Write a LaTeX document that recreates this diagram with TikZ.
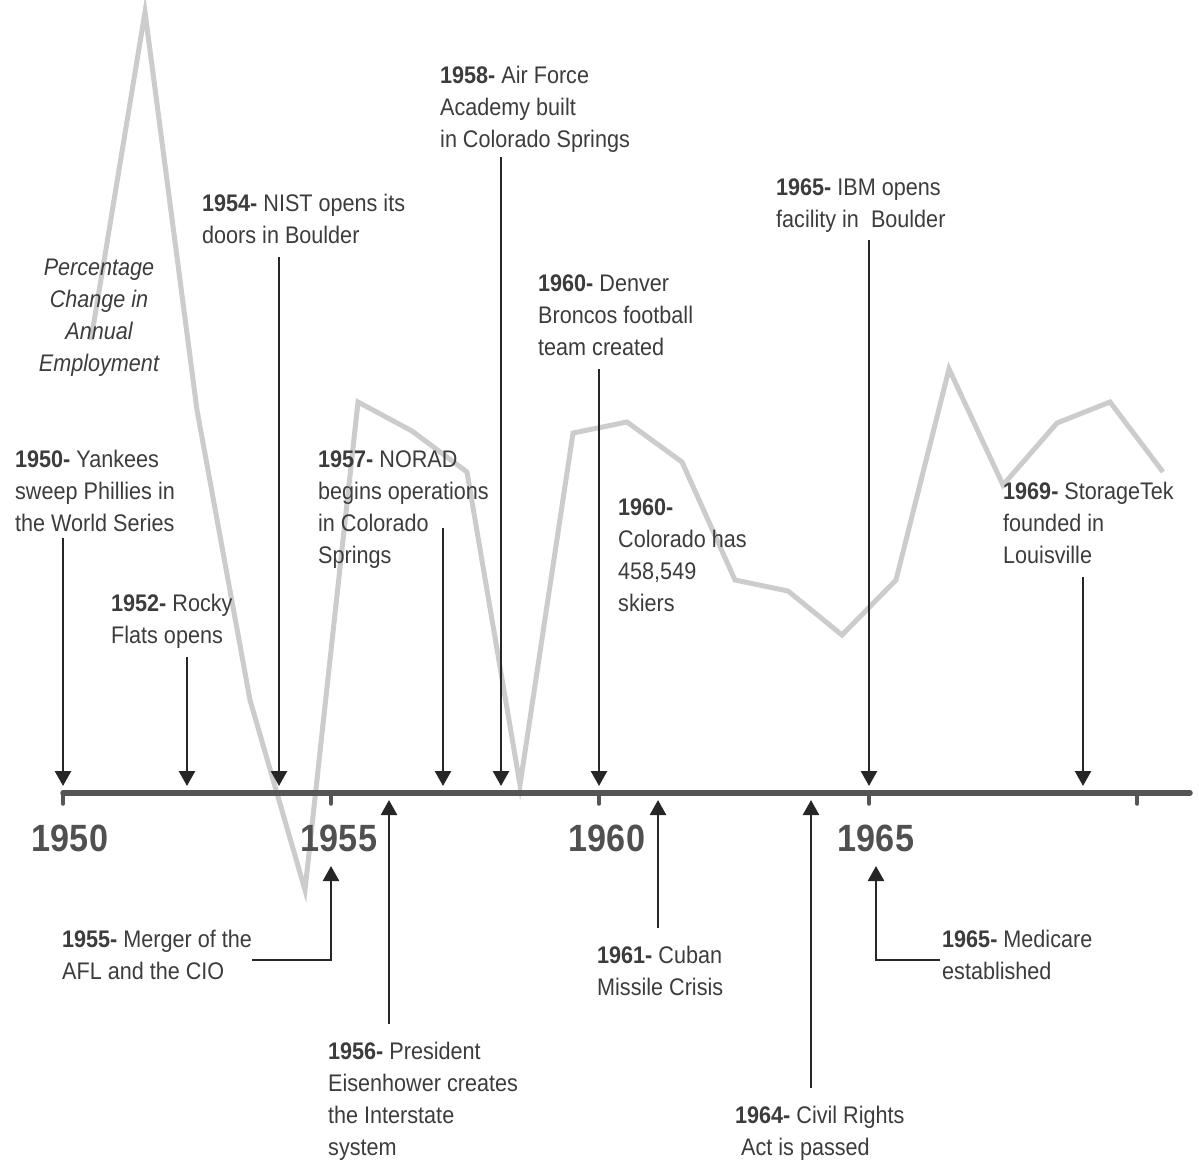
\documentclass[tikz,border=0pt]{standalone}
\usepackage{fontspec}
\setmainfont{Liberation Sans}[FakeStretch=0.9]
\usetikzlibrary{arrows.meta}
\definecolor{txt}{HTML}{3C3C3C}
\definecolor{yr}{HTML}{505050}
\definecolor{axc}{HTML}{555555}
\definecolor{arc}{HTML}{262626}
\definecolor{crv}{HTML}{CCCCCC}
\begin{document}
\begin{tikzpicture}[x=1pt,y=-1pt,
  lbl/.style={font=\fontsize{24}{32}\selectfont, text=txt, align=left, inner sep=0pt, anchor=base west},
  ylab/.style={font=\fontsize{38}{44}\selectfont\bfseries, text=yr, inner sep=0pt, anchor=base},
  arr/.style={draw=arc, line width=2.5pt, -{Triangle[width=16pt,length=15pt]}},
  axisline/.style={draw=axc, line width=5.5pt, line cap=round},
  tick/.style={draw=axc, line width=3.5pt, line cap=round},
  curve/.style={draw=crv, line width=5pt}]
\useasboundingbox (0,0) rectangle (1199,1160);
% employment curve
\draw[curve] (91,340) -- (145,12) -- (197,410) -- (250,700) -- (305,890) -- (358,402) -- (412,431) -- (467,472) -- (520,785) -- (573,433) -- (627,422) -- (682,462) -- (735,580) -- (788,591) -- (842,635) -- (896,580) -- (949,369) -- (1003,485) -- (1057,423) -- (1110,402) -- (1163,472);
% axis
\draw[axisline] (63,793) -- (1190,793);
\foreach \x in {63,331,599,869,1137} \draw[tick] (\x,793) -- (\x,804);
\node[ylab] (y1950) at (70,851) {1950};
\node[ylab] (y1955) at (339,851) {1955};
\node[ylab] (y1960) at (607,851) {1960};
\node[ylab] (y1965) at (876,851) {1965};
% curve caption
\node[font=\fontsize{24}{32}\selectfont\itshape, text=txt, align=center, inner sep=0pt, anchor=base] (cap) at (99,371) {Percentage\\Change in\\Annual\\Employment};
% top labels (anchor = baseline of last line)
\node[lbl] (e1950) at (15,531) {\textbf{1950-} Yankees\\sweep Phillies in\\the World Series};
\node[lbl] (e1952) at (111,643) {\textbf{1952-} Rocky\\Flats opens};
\node[lbl] (e1954) at (202,243) {\textbf{1954-} NIST opens its\\doors in Boulder};
\node[lbl] (e1957) at (318,563) {\textbf{1957-} NORAD\\begins operations\\in Colorado\\Springs};
\node[lbl] (e1958) at (440,147) {\textbf{1958-} Air Force\\Academy built\\in Colorado Springs};
\node[lbl] (e1960a) at (538,355) {\textbf{1960-} Denver\\Broncos football\\team created};
\node[lbl] (e1960b) at (618,611) {\textbf{1960-}\\Colorado has\\458,549\\skiers};
\node[lbl] (e1965a) at (776,227) {\textbf{1965-} IBM opens\\facility in\ \ Boulder};
\node[lbl] (e1969) at (1003,563) {\textbf{1969-} StorageTek\\founded in\\Louisville};
% bottom labels
\node[lbl] (e1955) at (62,979) {\textbf{1955-} Merger of the\\AFL and the CIO};
\node[lbl] (e1956) at (328,1155) {\textbf{1956-} President\\Eisenhower creates\\the Interstate\\system};
\node[lbl] (e1961) at (597,995) {\textbf{1961-} Cuban\\Missile Crisis};
\node[lbl] (e1964) at (735,1155) {\textbf{1964-} Civil Rights\\\ Act is passed};
\node[lbl] (e1965b) at (942,979) {\textbf{1965-} Medicare\\established};
% arrow coordinates (top)
\coordinate (s1950) at (63,538);   \coordinate (t1950) at (63,786);
\coordinate (s1952) at (187,657);  \coordinate (t1952) at (187,786);
\coordinate (s1954) at (279,257);  \coordinate (t1954) at (279,786);
\coordinate (s1957) at (443,528);  \coordinate (t1957) at (443,786);
\coordinate (s1958) at (501,157);  \coordinate (t1958) at (501,786);
\coordinate (s1960) at (599,369);  \coordinate (t1960) at (599,786);
\coordinate (s1965) at (869,240);  \coordinate (t1965) at (869,786);
\coordinate (s1969) at (1083,577); \coordinate (t1969) at (1083,786);
\draw[arr] (s1950) -- (t1950);
\draw[arr] (s1952) -- (t1952);
\draw[arr] (s1954) -- (t1954);
\draw[arr] (s1957) -- (t1957);
\draw[arr] (s1958) -- (t1958);
\draw[arr] (s1960) -- (t1960);
\draw[arr] (s1965) -- (t1965);
\draw[arr] (s1969) -- (t1969);
% arrow coordinates (bottom)
\coordinate (b1955) at (252,960);  \coordinate (u1955) at (331,866);
\coordinate (b1956) at (389,1024); \coordinate (u1956) at (389,800);
\coordinate (b1961) at (658,928);  \coordinate (u1961) at (658,800);
\coordinate (b1964) at (811,1088); \coordinate (u1964) at (811,800);
\coordinate (b1965) at (940,960);  \coordinate (u1965) at (876,866);
\draw[arr] (b1955) -| (u1955);
\draw[arr] (b1956) -- (u1956);
\draw[arr] (b1961) -- (u1961);
\draw[arr] (b1964) -- (u1964);
\draw[arr] (b1965) -| (u1965);
\end{tikzpicture}
\end{document}
